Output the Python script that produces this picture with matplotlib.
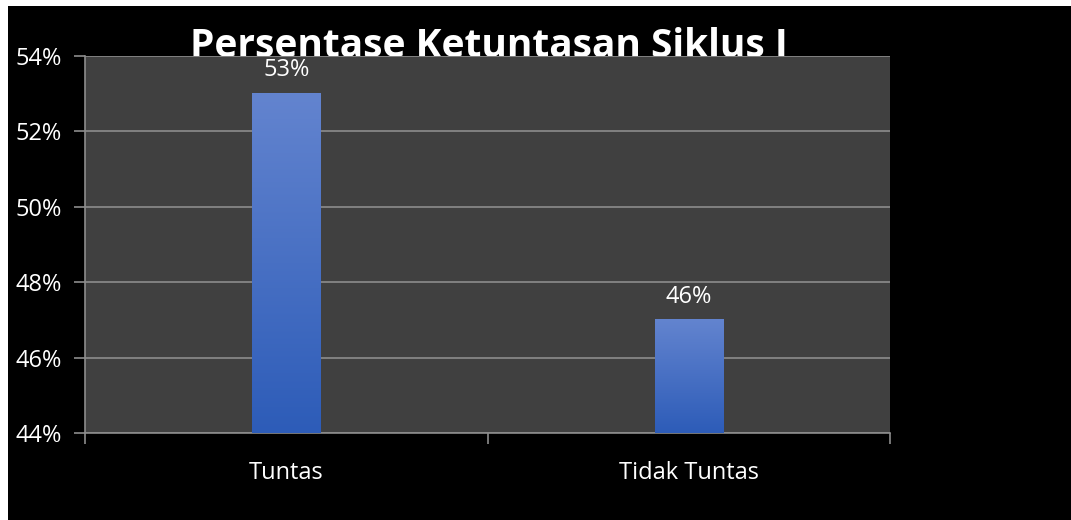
import matplotlib
matplotlib.use('Agg')
import matplotlib.pyplot as plt
from matplotlib.patches import Rectangle
import numpy as np

# data
kategori = ['Tuntas', 'Tidak Tuntas']
nilai = [53, 47]
label_nilai = ['53%', '46%']
y_ticks = [44, 46, 48, 50, 52, 54]

plt.rcParams['font.family'] = ['Open Sans', 'DejaVu Sans']

fig = plt.figure(figsize=(10.71, 5.2), dpi=100, facecolor='white')
# latar hitam (sisa putih tipis di kiri & atas)
fig.patches.append(Rectangle((8 / 1071, 0), 1, 1 - 6 / 520, transform=fig.transFigure,
                             facecolor='black', edgecolor='none', zorder=-10))

ax = fig.add_axes([85 / 1071, 1 - 433 / 520, 805 / 1071, 377 / 520])
ax.set_facecolor('#404040')

x = np.arange(len(kategori))
lebar = 0.17

# bar dengan gradien
grad = np.linspace(0, 1, 256).reshape(-1, 1)
cmap = matplotlib.colors.LinearSegmentedColormap.from_list('g', ['#2d5cb8', '#6384cf'])
for xi, v, lab in zip(x, nilai, label_nilai):
    ax.imshow(grad, extent=(xi - lebar / 2, xi + lebar / 2, 44, v), origin='lower',
              cmap=cmap, aspect='auto', zorder=3)
    ax.text(xi, v + 0.62, lab, ha='center', va='center', color='white', fontsize=17, zorder=4)
ax.set_xlim(-0.5, len(kategori) - 0.5)
ax.set_ylim(44, 54)

ax.set_yticks(y_ticks)
ax.set_yticklabels([f'{t}%' for t in y_ticks], color='white', fontsize=17)
ax.yaxis.grid(True, color='#8c8c8c', linewidth=1.2)
ax.set_axisbelow(True)

ax.set_xticks(x)
ax.set_xticklabels(kategori, color='white', fontsize=17)
ax.set_xticks([-0.5, 0.5, 1.5], minor=True)
ax.tick_params(axis='x', which='major', length=0, pad=20)
ax.tick_params(axis='x', which='minor', length=8, color='#8c8c8c', width=1.2)
ax.tick_params(axis='y', length=8, color='#8c8c8c', width=1.2, pad=9)

for s in ['top', 'right']:
    ax.spines[s].set_visible(False)
ax.spines['left'].set_color('#8c8c8c')
ax.spines['bottom'].set_color('#8c8c8c')
ax.spines['left'].set_linewidth(1.2)
ax.spines['bottom'].set_linewidth(1.2)

fig.text(489 / 1071, 1 - 57 / 520, 'Persentase Ketuntasan Siklus I', ha='center', va='baseline',
         color='white', fontsize=28, fontweight='bold', zorder=-5)

fig.savefig('out.png', dpi=100, facecolor=fig.get_facecolor())
